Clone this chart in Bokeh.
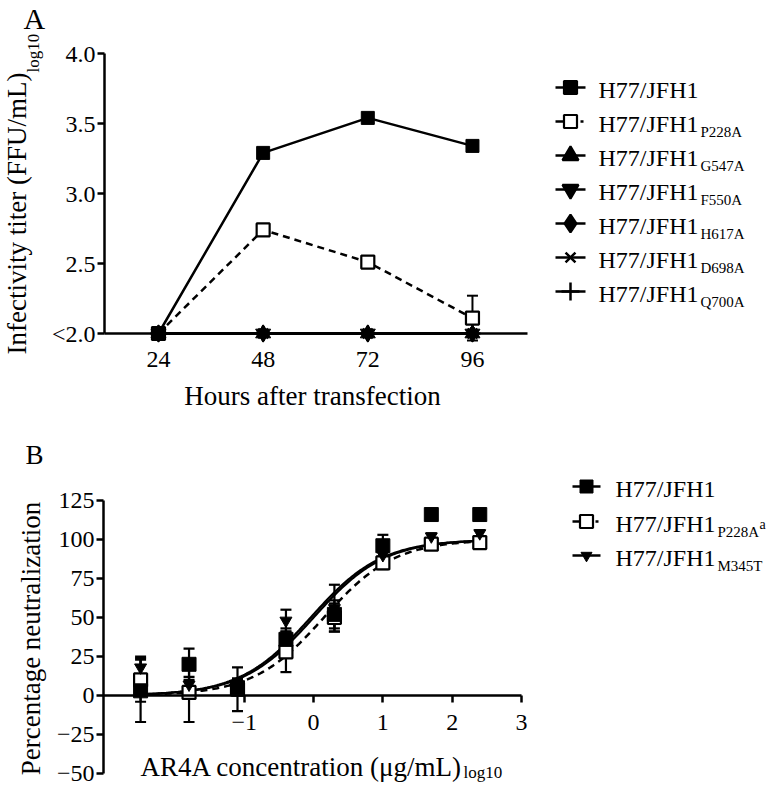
import numpy as np
from bokeh.plotting import figure
from bokeh.models import Range1d, FixedTicker, Label, Whisker, ColumnDataSource, TeeHead
from bokeh.layouts import column, row
from bokeh.embed import file_html
from bokeh.resources import INLINE
from bokeh.core.properties import value

FONT = "'Liberation Serif'"

# ---------------- Panel A data ----------------
hours = [24, 48, 72, 96]
titer_wt = [2.0, 3.29, 3.54, 3.34]
titer_p228a = [2.0, 2.74, 2.51, 2.11]
titer_p228a_sd = [0.0, 0.0, 0.0, 0.16]
titer_g547a = [2.0, 2.0, 2.0, 2.0]
titer_f550a = [2.0, 2.0, 2.0, 2.0]
titer_h617a = [2.0, 2.0, 2.0, 2.0]
titer_d698a = [2.0, 2.0, 2.0, 2.0]
titer_q700a = [2.0, 2.0, 2.0, 2.0]
a_x_bounds = (11.62, 108.62)
a_y_bounds = (2.0, 4.0)
a_x_ticks = [24, 48, 72, 96]
a_y_ticks = [2.0, 2.5, 3.0, 3.5, 4.0]
a_y_tick_labels = ["<2.0", "2.5", "3.0", "3.5", "4.0"]
a_base_name = "H77/JFH1"
a_subs = ["", "P228A", "G547A", "F550A", "H617A", "D698A", "Q700A"]

# ---------------- Panel B data ----------------
log_conc = [-2.495, -1.796, -1.097, -0.398, 0.301, 1.0, 1.699, 2.398]
neut_wt = [3, 20, 5, 36, 52, 96, 116, 116]
neut_wt_sd = [20, 10, 5, 7, 9, 7, 0, 0]
neut_p228a = [10, 2, 4, 28, 50, 85, 97, 98]
neut_p228a_sd = [14, 19, 14, 13, 9, 4, 3, 2]
neut_m345t = [18, 7, 6, 48, 56, 90, 102, 104]
neut_m345t_sd = [7, 5, 5, 7, 15, 4, 2, 2]
# fitted dose-response curves: bottom, top, logIC50, hill slope
fit_wt = [0, 100, 0.0, 0.85]
fit_p228a = [0, 100, 0.15, 0.85]
fit_m345t = [0, 100, -0.04, 0.85]
b_x_bounds = (-3.03, 3.0)
b_y_bounds = (-50, 125)
b_x_ticks = [-1, 0, 1, 2, 3]
b_x_tick_labels = ["\u22121", "0", "1", "2", "3"]
b_y_ticks = [-50, -25, 0, 25, 50, 75, 100, 125]
b_y_tick_labels = ["\u221250", "\u221225", "0", "25", "50", "75", "100", "125"]
b_subs = ["", "P228A", "M345T"]


def ranges(W, H, xb, px_l, px_r, yb, py_b, py_t):
    """Map axis bounds to pixel positions; the frame fills the whole figure."""
    sx = (px_r - px_l) / (xb[1] - xb[0])
    sy = (py_b - py_t) / (yb[1] - yb[0])
    xr = Range1d(xb[0] - px_l / sx, xb[1] + (W - px_r) / sx)
    yr = Range1d(yb[0] - (H - py_b) / sy, yb[1] + py_t / sy)
    return xr, yr


def style_axes(p):
    for ax in p.axis:
        ax.axis_line_width = 2.5
        ax.axis_line_color = "black"
        ax.major_tick_line_width = 2.5
        ax.major_tick_line_color = "black"
        ax.major_tick_in = 0
        ax.major_tick_out = 7
        ax.minor_tick_line_color = None
        ax.major_label_text_font = FONT
        ax.major_label_text_font_size = "24px"
        ax.major_label_text_color = "black"


def lab(p, x, y, text, size, align="left", angle=0.0):
    p.add_layout(Label(x=x, y=y, x_units="canvas", y_units="canvas", text=text,
                       text_font=FONT, text_font_size=size, text_align=align,
                       text_baseline="middle", angle=angle, text_color="black"))


def bare_fig(W, H, xr, yr, axes=True):
    kw = dict(width=W, height=H, x_range=xr, y_range=yr, output_backend="svg",
              toolbar_location=None, min_border=0)
    if not axes:
        kw.update(x_axis_type=None, y_axis_type=None)
    f = figure(**kw)
    f.grid.visible = False
    f.outline_line_color = None
    return f


TOTAL_W = 770
# ================= Panel A =================
A_W, A_H = 530, 412
xrA, yrA = ranges(A_W, A_H, a_x_bounds, 104, 527, a_y_bounds, 333, 53)
pA = bare_fig(A_W, A_H, xrA, yrA)
pA.xaxis.fixed_location = a_y_bounds[0]
pA.yaxis.fixed_location = a_x_bounds[0]
pA.xaxis.bounds = a_x_bounds
pA.yaxis.bounds = a_y_bounds
pA.xaxis.ticker = FixedTicker(ticks=a_x_ticks)
pA.yaxis.ticker = FixedTicker(ticks=a_y_ticks)
pA.yaxis.major_label_overrides = dict(zip(a_y_ticks, a_y_tick_labels))
style_axes(pA)
pA.xaxis.major_label_standoff = 11
pA.yaxis.major_label_standoff = 2

lw = 2.5
pA.line(hours, titer_q700a, line_color="black", line_width=lw)
pA.scatter(hours, titer_q700a, marker="cross", size=16, line_color="black", line_width=2.5)
pA.line(hours, titer_d698a, line_color="black", line_width=lw)
pA.scatter(hours, titer_d698a, marker="x", size=14, line_color="black", line_width=2.5)
pA.line(hours, titer_h617a, line_color="black", line_width=lw)
pA.scatter(hours, titer_h617a, marker="diamond", size=17, fill_color="black", line_color="black")
pA.line(hours, titer_g547a, line_color="black", line_width=lw)
pA.scatter(hours, titer_g547a, marker="triangle", size=15, fill_color="black", line_color="black")
pA.line(hours, titer_f550a, line_color="black", line_width=lw)
pA.scatter(hours, titer_f550a, marker="inverted_triangle", size=15, fill_color="black", line_color="black")

srcA = ColumnDataSource(dict(x=hours,
                             up=[v + e for v, e in zip(titer_p228a, titer_p228a_sd)],
                             lo=[v - e for v, e in zip(titer_p228a, titer_p228a_sd)]))
pA.add_layout(Whisker(base="x", upper="up", lower="lo", source=srcA, dimension="height",
                      line_width=2, line_color="black",
                      upper_head=TeeHead(size=11, line_width=2, line_color="black"),
                      lower_head=TeeHead(size=11, line_width=2, line_color="black")))
pA.line(hours, titer_p228a, line_color="black", line_width=lw, line_dash="7 5")
pA.scatter(hours, titer_p228a, marker="square", size=13, fill_color="white", line_color="black", line_width=2.2)
pA.line(hours, titer_wt, line_color="black", line_width=lw)
pA.scatter(hours, titer_wt, marker="square", size=13, fill_color="black", line_color="black")

lab(pA, 23, 18, "A", "30px")
lab(pA, 16, 72, "Infectivity titer (FFU/mL)", "27px", align="right", angle=np.pi / 2)
lab(pA, 33, 72, "log10", "17px", align="left", angle=np.pi / 2)
lab(pA, 312, 395, "Hours after transfection", "27px", align="center")

# ---- legend A ----
LA_W = TOTAL_W - A_W
legA = bare_fig(LA_W, A_H, Range1d(0, LA_W), Range1d(A_H, 0), axes=False)
rowsA = [87 + 34 * i for i in range(len(a_subs))]
mx, sx0, sx1, tx = 40, 25, 55, 68
markersA = [("square", "black", 13), ("square", "white", 13), ("triangle", "black", 16),
            ("inverted_triangle", "black", 16), ("diamond", "black", 18), ("x", None, 14),
            ("cross", None, 18)]
for i, (mk, fc, sz) in enumerate(markersA):
    y = rowsA[i]
    if i == 1:
        legA.segment([sx0], [y], [mx - 4], [y], line_color="black", line_width=2.5)
        legA.segment([sx1 - 5], [y], [sx1 - 2], [y], line_color="black", line_width=2.5)
    else:
        legA.segment([sx0], [y], [sx1], [y], line_color="black", line_width=2.5)
    if fc is None:
        legA.scatter([mx], [y], marker=mk, size=sz, line_color="black", line_width=2.5)
    else:
        legA.scatter([mx], [y], marker=mk, size=sz, fill_color=fc, line_color="black", line_width=2.2)
legA.text(x=[tx] * len(a_subs), y=[r + 2 for r in rowsA], text=[a_base_name] * len(a_subs),
          text_font=value(FONT), text_font_size=value("24px"), text_baseline="middle",
          text_align="left", text_color="black")
legA.text(x=[tx + 102] * (len(a_subs) - 1), y=[r + 10 for r in rowsA[1:]], text=a_subs[1:],
          text_font=value(FONT), text_font_size=value("15px"), text_baseline="middle",
          text_align="left", text_color="black")

# ================= Panel B =================
B_W, B_H = 530, 374
xrB, yrB = ranges(B_W, B_H, b_x_bounds, 103, 521, b_y_bounds, 361, 88)
pB = bare_fig(B_W, B_H, xrB, yrB)
pB.xaxis.fixed_location = 0
pB.yaxis.fixed_location = b_x_bounds[0]
pB.xaxis.bounds = b_x_bounds
pB.yaxis.bounds = b_y_bounds
pB.xaxis.ticker = FixedTicker(ticks=b_x_ticks)
pB.yaxis.ticker = FixedTicker(ticks=b_y_ticks)
pB.xaxis.major_label_overrides = dict(zip(b_x_ticks, b_x_tick_labels))
pB.yaxis.major_label_overrides = dict(zip(b_y_ticks, b_y_tick_labels))
style_axes(pB)
pB.xaxis.major_label_standoff = 12
pB.yaxis.major_label_standoff = 2


def curve(fit):
    xs = np.linspace(log_conc[0], log_conc[-1], 200)
    b, t, ec, h = fit
    return xs, b + (t - b) / (1 + 10 ** ((ec - xs) * h))


xs, ys = curve(fit_p228a)
pB.line(xs, ys, line_color="black", line_width=2.5, line_dash="7 5")
xs, ys = curve(fit_m345t)
pB.line(xs, ys, line_color="black", line_width=2.3)
xs, ys = curve(fit_wt)
pB.line(xs, ys, line_color="black", line_width=2.3)

for vals, sds in [(neut_p228a, neut_p228a_sd), (neut_m345t, neut_m345t_sd), (neut_wt, neut_wt_sd)]:
    src = ColumnDataSource(dict(x=log_conc,
                                up=[v + e for v, e in zip(vals, sds)],
                                lo=[v - e for v, e in zip(vals, sds)]))
    pB.add_layout(Whisker(base="x", upper="up", lower="lo", source=src, dimension="height",
                          line_width=2.2, line_color="black",
                          upper_head=TeeHead(size=11, line_width=2.2, line_color="black"),
                          lower_head=TeeHead(size=11, line_width=2.2, line_color="black")))

pB.scatter(log_conc, neut_p228a, marker="square", size=13, fill_color="white", line_color="black", line_width=2.2)
pB.scatter(log_conc, neut_m345t, marker="inverted_triangle", size=12, fill_color="black", line_color="black")
pB.scatter(log_conc, neut_wt, marker="square", size=14, fill_color="black", line_color="black")

lab(pB, 25, 42, "B", "27px")
lab(pB, 30, 226, "Percentage neutralization", "27px", align="center", angle=np.pi / 2)
lab(pB, 140, 354, "AR4A concentration (\u03bcg/mL)", "27px", align="left")
lab(pB, 463, 360, "log10", "17px", align="left")

# ---- legend B ----
LB_W = TOTAL_W - B_W
legB = bare_fig(LB_W, B_H, Range1d(0, LB_W), Range1d(B_H, 0), axes=False)
rowsB = [74, 109, 143]
mxb, bx0, bx1, txb = 56, 42, 70, 85
legB.segment([bx0], [rowsB[0]], [bx1], [rowsB[0]], line_color="black", line_width=2.5)
legB.scatter([mxb], [rowsB[0]], marker="square", size=13, fill_color="black", line_color="black")
legB.segment([bx0], [rowsB[1]], [mxb - 4], [rowsB[1]], line_color="black", line_width=2.5)
legB.segment([bx1 - 5], [rowsB[1]], [bx1 - 2], [rowsB[1]], line_color="black", line_width=2.5)
legB.scatter([mxb], [rowsB[1]], marker="square", size=13, fill_color="white", line_color="black", line_width=2.2)
legB.segment([bx0], [rowsB[2]], [bx1], [rowsB[2]], line_color="black", line_width=2.5)
legB.scatter([mxb], [rowsB[2]], marker="inverted_triangle", size=11, fill_color="black", line_color="black")
legB.text(x=[txb] * 3, y=[r + 2 for r in rowsB], text=[a_base_name] * 3,
          text_font=value(FONT), text_font_size=value("24px"), text_baseline="middle",
          text_align="left", text_color="black")
legB.text(x=[txb + 102] * 2, y=[r + 10 for r in rowsB[1:]], text=b_subs[1:],
          text_font=value(FONT), text_font_size=value("15px"), text_baseline="middle",
          text_align="left", text_color="black")
legB.text(x=[txb + 102 + 42], y=[rowsB[1] + 3], text=["a"],
          text_font=value(FONT), text_font_size=value("14px"), text_baseline="middle",
          text_align="left", text_color="black")

layout = column(row(pA, legA), row(pB, legB))
open("out.html", "w").write(file_html(layout, INLINE))
